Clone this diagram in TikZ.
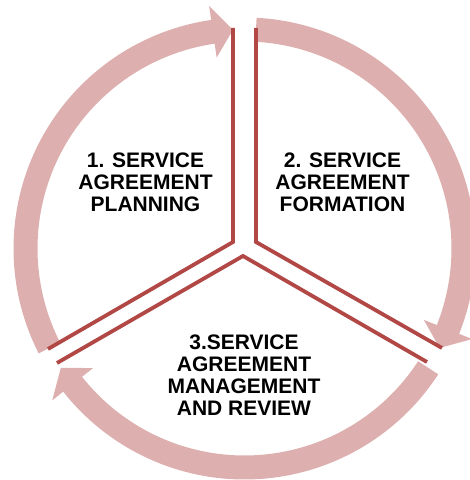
\documentclass[tikz,border=0pt]{standalone}
\usepackage{fontspec}
\setmainfont{Liberation Sans}
\definecolor{ringpink}{RGB}{221,175,175}
\definecolor{linered}{RGB}{177,72,70}
\tikzset{
  ringarrow/.style={fill=ringpink, draw=none},
  sectorline/.style={draw=linered, line width=3.8pt, line join=miter},
  label/.style={align=center, inner sep=0pt, font=\fontsize{21}{22}\selectfont\bfseries, text=black}
}
\begin{document}
\begin{tikzpicture}[x=1pt,y=1pt]
\useasboundingbox (0,0) rectangle (470,480);
% ring arrows
\begin{scope}[shift={(244.5,231.5)}]
  \foreach \s/\b/\t in {207/98.3/93, 87/-21.7/-27, -33/-141.7/-147}{
    \path[ringarrow] (\s:231) arc[start angle=\s, end angle=\b, radius=231]
      -- (\b:245) -- (\t:219) -- (\b:193) -- (\b:207)
      arc[start angle=\b, end angle=\s, radius=207] -- cycle;
  }
\end{scope}
% sector outlines
\coordinate (l1) at (233,452); \coordinate (l2) at (233,238); \coordinate (l3) at (48,131);
\coordinate (r1) at (256,452); \coordinate (r2) at (256,238); \coordinate (r3) at (442,132);
\coordinate (b1) at (57,117);  \coordinate (b2) at (243,224); \coordinate (b3) at (427,118);
\draw[sectorline] (l1) -- (l2) -- (l3);
\draw[sectorline] (r1) -- (r2) -- (r3);
\draw[sectorline] (b1) -- (b2) -- (b3);
% labels
\node[label] (t1) at (145.5,297.5) {1. SERVICE\\AGREEMENT\\PLANNING};
\node[label] (t2) at (342.5,297.5) {2. SERVICE\\AGREEMENT\\FORMATION};
\node[label] (t3) at (244,104.5) {3.SERVICE\\AGREEMENT\\MANAGEMENT\\AND REVIEW};
\end{tikzpicture}
\end{document}
